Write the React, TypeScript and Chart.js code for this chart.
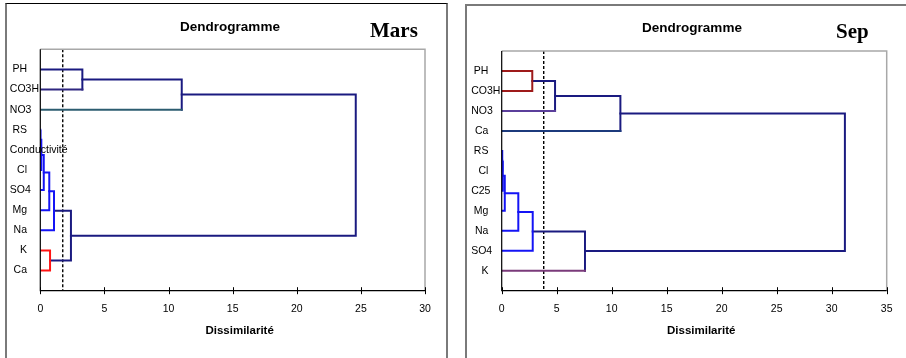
import React, { useEffect, useRef } from "react";
import { Chart, registerables } from "chart.js";
Chart.register(...registerables);

const NAVY = "#1A1A80";
const BLUE = "#1414F5";
const RED = "#FF1414";
const DARKRED = "#9E1A1A";
const SANS = "'Liberation Sans', Arial, sans-serif";
const SERIF = "'Liberation Serif', 'Times New Roman', serif";

// ---- Mars ----
const marsLeaves = ["PH", "CO3H", "NO3", "RS", "Conductivité", "Cl", "SO4", "Mg", "Na", "K", "Ca"];
// children of each merge (0..10 leaves, 11+ = merges in order)
const marsMergeA = [3, 11, 12, 13, 14, 9, 15, 0, 18, 19];
const marsMergeB = [4, 5, 6, 7, 8, 10, 16, 1, 2, 17];
const marsHeights = [0.03, 0.08, 0.27, 0.7, 1.07, 0.76, 2.39, 3.28, 11.03, 24.6];
const marsMergeColors = [BLUE, BLUE, BLUE, BLUE, BLUE, RED, NAVY, NAVY, NAVY, NAVY];
const marsLeafColors = [NAVY, "#2E2680", "#2C5C70", BLUE, BLUE, BLUE, BLUE, BLUE, BLUE, RED, RED];
const marsCut = 1.75;
const marsXTicks = [0, 5, 10, 15, 20, 25, 30];

// ---- Sep ----
const sepLeaves = ["PH", "CO3H", "NO3", "Ca", "RS", "Cl", "C25", "Mg", "Na", "SO4", "K"];
const sepMergeA = [4, 11, 12, 13, 14, 15, 0, 17, 18, 19];
const sepMergeB = [5, 6, 7, 8, 9, 10, 1, 2, 3, 16];
const sepHeights = [0.05, 0.1, 0.28, 1.51, 2.82, 7.57, 2.78, 4.85, 10.79, 31.2];
const sepMergeColors = [BLUE, BLUE, BLUE, BLUE, BLUE, NAVY, DARKRED, NAVY, NAVY, NAVY];
const sepLeafColors = [DARKRED, DARKRED, "#5B3F9B", "#1C3A7C", BLUE, BLUE, BLUE, BLUE, BLUE, BLUE, "#7A3A7A"];
const sepCut = 3.82;
const sepXTicks = [0, 5, 10, 15, 20, 25, 30, 35];

function buildDatasets(leaves: string[], A: number[], B: number[], H: number[], mColors: string[], lColors: string[], cut: number) {
  const n = leaves.length;
  const nodeY: number[] = leaves.map((_, i) => i + 1);
  const nodeH: number[] = leaves.map(() => 0);
  const ds: any[] = [];
  A.forEach((a, m) => {
    const b = B[m];
    const h = H[m];
    const ya = nodeY[a];
    const yb = nodeY[b];
    const cm = mColors[m];
    const ca = a < n ? lColors[a] : cm;
    const cb = b < n ? lColors[b] : cm;
    ds.push({
      data: [
        { x: nodeH[a], y: ya },
        { x: h, y: ya },
        { x: h, y: yb },
        { x: nodeH[b], y: yb },
      ],
      borderColor: cm,
      segment: {
        borderColor: (ctx: any) => (ctx.p0DataIndex === 0 ? ca : ctx.p0DataIndex === 2 ? cb : cm),
      },
      borderWidth: 2,
      pointRadius: 0,
      fill: false,
      tension: 0,
      borderCapStyle: "square",
      borderJoinStyle: "miter",
    });
    nodeY.push((ya + yb) / 2);
    nodeH.push(h);
  });
  ds.push({
    data: [
      { x: cut, y: 0 },
      { x: cut, y: 12 },
    ],
    borderColor: "#000",
    borderWidth: 1.4,
    borderDash: [3, 2],
    pointRadius: 0,
    fill: false,
  });
  return ds;
}

type PanelProps = {
  leaves: string[];
  A: number[];
  B: number[];
  H: number[];
  mColors: string[];
  lColors: string[];
  cut: number;
  xTicks: number[];
  xMax: number;
  month: string;
  width: number;
  left: number;
  pad: { left: number; right: number; top: number };
  titleX: number;
  titleBase: number;
  monthX: number;
  monthBase: number;
};

function Panel(p: PanelProps) {
  const ref = useRef<HTMLCanvasElement | null>(null);
  useEffect(() => {
    if (!ref.current) return;
    const decor = {
      id: "decor",
      afterDraw(chart: any) {
        const { ctx, chartArea, scales } = chart;
        const { left, right, top, bottom } = chartArea;
        const x = scales.x;
        const y = scales.y;
        ctx.save();
        // gray top/right frame
        ctx.strokeStyle = "#A8A8A8";
        ctx.lineWidth = 1.5;
        ctx.beginPath();
        ctx.moveTo(left, top);
        ctx.lineTo(right, top);
        ctx.lineTo(right, bottom);
        ctx.stroke();
        // black axes
        ctx.strokeStyle = "#000";
        ctx.lineWidth = 1.2;
        ctx.beginPath();
        ctx.moveTo(left, top);
        ctx.lineTo(left, bottom);
        ctx.lineTo(right, bottom);
        ctx.stroke();
        // crossing tick marks
        ctx.lineWidth = 1;
        ctx.beginPath();
        x.ticks.forEach((t: any) => {
          const px = Math.round(x.getPixelForValue(t.value)) + 0.5;
          ctx.moveTo(px, bottom - 3.5);
          ctx.lineTo(px, bottom + 3.5);
        });
        ctx.stroke();
        // leaf labels
        ctx.fillStyle = "#000";
        ctx.font = `10.5px ${SANS}`;
        ctx.textAlign = "left";
        ctx.textBaseline = "middle";
        p.leaves.forEach((lab, i) => {
          const py = y.getPixelForValue(i + 1);
          const w = ctx.measureText(lab).width;
          const tx = Math.max(left - 30.5, left - 13.3 - w);
          ctx.fillText(lab, tx, py);
        });
        // axis title
        ctx.textAlign = "center";
        ctx.font = `bold 11.5px ${SANS}`;
        ctx.fillText("Dissimilarité", (left + right) / 2 + 7, bottom + 40.5);
        // titles
        ctx.textBaseline = "alphabetic";
        ctx.font = `bold 13.5px ${SANS}`;
        ctx.fillText("Dendrogramme", p.titleX, p.titleBase);
        ctx.textAlign = "left";
        ctx.font = `bold 21px ${SERIF}`;
        ctx.fillText(p.month, p.monthX, p.monthBase);
        ctx.restore();
      },
    };
    const chart = new Chart(ref.current, {
      type: "line",
      data: { datasets: buildDatasets(p.leaves, p.A, p.B, p.H, p.mColors, p.lColors, p.cut) },
      options: {
        animation: false,
        responsive: false,
        maintainAspectRatio: false,
        layout: { padding: { left: p.pad.left, right: p.pad.right, top: p.pad.top, bottom: 0 } },
        plugins: { legend: { display: false }, tooltip: { enabled: false }, title: { display: false } },
        scales: {
          x: {
            type: "linear",
            min: 0,
            max: p.xMax,
            afterBuildTicks: (s: any) => {
              s.ticks = p.xTicks.map((v) => ({ value: v }));
            },
            afterFit: (s: any) => {
              s.height = 67.3;
            },
            grid: { display: false, drawTicks: false },
            border: { display: false },
            ticks: {
              padding: 12,
              color: "#000",
              font: { family: SANS, size: 10.5 },
              maxRotation: 0,
              autoSkip: false,
            },
            title: { display: false },
          },
          y: { type: "linear", min: 0, max: 12, reverse: true, display: false },
        },
      },
      plugins: [decor],
    } as any);
    return () => chart.destroy();
  }, []);
  return (
    <canvas
      ref={ref}
      width={p.width}
      height={358}
      style={{ position: "absolute", left: p.left, top: 0, width: p.width, height: 358 }}
    />
  );
}

export default function App() {
  return (
    <div style={{ position: "fixed", left: 0, top: 0, width: 906, height: 358, overflow: "hidden", background: "#fff" }}>
      <div
        style={{
          position: "absolute",
          left: 5,
          top: 3,
          width: 439,
          height: 400,
          borderLeft: "2px solid #7A7A7A",
          borderRight: "2px solid #7A7A7A",
          borderTop: "1px solid #000",
        }}
      />
      <div
        style={{
          position: "absolute",
          left: 465,
          top: 4,
          width: 500,
          height: 400,
          borderLeft: "2px solid #7A7A7A",
          borderTop: "2px solid #7A7A7A",
        }}
      />
      <Panel
        leaves={marsLeaves}
        A={marsMergeA}
        B={marsMergeB}
        H={marsHeights}
        mColors={marsMergeColors}
        lColors={marsLeafColors}
        cut={marsCut}
        xTicks={marsXTicks}
        xMax={30}
        month="Mars"
        width={450}
        left={0}
        pad={{ left: 40.3, right: 25, top: 49.3 }}
        titleX={230}
        titleBase={30.7}
        monthX={370}
        monthBase={36.7}
      />
      <Panel
        leaves={sepLeaves}
        A={sepMergeA}
        B={sepMergeB}
        H={sepHeights}
        mColors={sepMergeColors}
        lColors={sepLeafColors}
        cut={sepCut}
        xTicks={sepXTicks}
        xMax={35}
        month="Sep"
        width={451}
        left={455}
        pad={{ left: 46.7, right: 19.3, top: 51 }}
        titleX={237}
        titleBase={32.3}
        monthX={381}
        monthBase={38.3}
      />
    </div>
  );
}
